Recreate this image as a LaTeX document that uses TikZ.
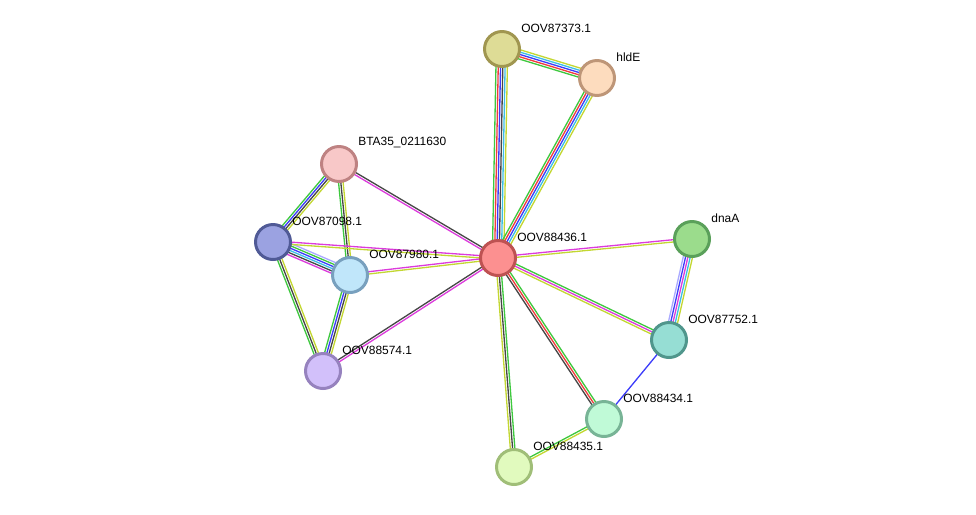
\documentclass[tikz,border=0pt]{standalone}
\usepackage{fontspec}
\setmainfont{Liberation Sans}
\usetikzlibrary{calc,backgrounds}
% evidence channel colours
\definecolor{cneigh}{RGB}{62,200,62}
\definecolor{cfus}{RGB}{240,60,60}
\definecolor{cocc}{RGB}{60,60,250}
\definecolor{ccoex}{RGB}{70,70,70}
\definecolor{cexp}{RGB}{220,60,220}
\definecolor{cdb}{RGB}{60,190,230}
\definecolor{ctext}{RGB}{195,215,50}
\definecolor{chom}{RGB}{170,170,255}
\tikzset{
  prot/.style  = {circle, draw, line width=1.7pt, minimum size=0.7cm, inner sep=0pt},
  lbl/.style   = {font=\fontsize{6.8}{8}\selectfont, inner sep=0pt, anchor=west,
                  xshift=0.38cm, yshift=0.42cm},
  link/.style  = {line width=0.75pt}
}
% bundle of parallel evidence lines: from, to, number, colours
\newcommand{\stredge}[4]{%
  \foreach \col [count=\i] in {#4} {
    \pgfmathsetmacro{\off}{(\i-(#3+1)/2)*1.3}
    \draw[link, \col] ($(#1)!\off pt!90:(#2)$) -- ($(#2)!\off pt!-90:(#1)$);
  }}

\begin{document}
\begin{tikzpicture}[x=0.02cm, y=-0.02cm]
  \useasboundingbox (0,0) rectangle (976,514);

  % proteins
  \node[prot, fill={rgb,255:red,252;green,144;blue,144}, draw={rgb,255:red,190;green,82;blue,82}]
    (p88436) at (498,258) {};
  \node[prot, fill={rgb,255:red,222;green,220;blue,150}, draw={rgb,255:red,160;green,150;blue,80}]
    (p87373) at (502,49) {};
  \node[prot, fill={rgb,255:red,253;green,220;blue,190}, draw={rgb,255:red,190;green,150;blue,120}]
    (hlde) at (597,78) {};
  \node[prot, fill={rgb,255:red,248;green,200;blue,200}, draw={rgb,255:red,190;green,130;blue,130}]
    (bta) at (339,164) {};
  \node[prot, fill={rgb,255:red,155;green,162;blue,225}, draw={rgb,255:red,80;green,90;blue,150}]
    (p87098) at (273,242) {};
  \node[prot, fill={rgb,255:red,192;green,230;blue,250}, draw={rgb,255:red,120;green,160;blue,190}]
    (p87980) at (350,275) {};
  \node[prot, fill={rgb,255:red,210;green,192;blue,250}, draw={rgb,255:red,150;green,130;blue,190}]
    (p88574) at (323,371) {};
  \node[prot, fill={rgb,255:red,155;green,220;blue,140}, draw={rgb,255:red,90;green,160;blue,90}]
    (dnaa) at (692,239) {};
  \node[prot, fill={rgb,255:red,150;green,222;blue,212}, draw={rgb,255:red,80;green,150;blue,140}]
    (p87752) at (669,340) {};
  \node[prot, fill={rgb,255:red,192;green,250;blue,215}, draw={rgb,255:red,120;green,180;blue,150}]
    (p88434) at (604,419) {};
  \node[prot, fill={rgb,255:red,225;green,250;blue,190}, draw={rgb,255:red,160;green,190;blue,120}]
    (p88435) at (514,467) {};

  % names
  \node[lbl] at (p88436) {OOV88436.1};
  \node[lbl] at (p87373) {OOV87373.1};
  \node[lbl] at (hlde) {hldE};
  \node[lbl] at (bta) {BTA35\_0211630};
  \node[lbl] at (p87098) {OOV87098.1};
  \node[lbl] at (p87980) {OOV87980.1};
  \node[lbl] at (p88574) {OOV88574.1};
  \node[lbl] at (dnaa) {dnaA};
  \node[lbl] at (p87752) {OOV87752.1};
  \node[lbl] at (p88434) {OOV88434.1};
  \node[lbl] at (p88435) {OOV88435.1};

  % interactions, behind the proteins
  \begin{scope}[on background layer]
    \stredge{p87373}{p88436}{6}{cneigh,cfus,cocc,ccoex,cdb,ctext}
    \stredge{p87373}{hlde}{5}{cneigh,cfus,cocc,cdb,ctext}
    \stredge{hlde}{p88436}{5}{cneigh,cfus,cocc,cdb,ctext}
    \stredge{bta}{p88436}{2}{cexp,ccoex}
    \stredge{bta}{p87098}{4}{cneigh,cocc,ccoex,ctext}
    \stredge{bta}{p87980}{3}{cneigh,ccoex,ctext}
    \stredge{p87098}{p87980}{6}{cexp,ccoex,cdb,cocc,cneigh,chom}
    \stredge{p87098}{p88436}{2}{ctext,cexp}
    \stredge{p87980}{p88436}{2}{ctext,cexp}
    \stredge{p87098}{p88574}{3}{cneigh,ccoex,ctext}
    \stredge{p87980}{p88574}{4}{cneigh,cocc,ccoex,ctext}
    \stredge{p88574}{p88436}{2}{cexp,ccoex}
    \stredge{dnaa}{p88436}{2}{cexp,ctext}
    \stredge{dnaa}{p87752}{5}{chom,cocc,cexp,cdb,ctext}
    \stredge{p87752}{p88436}{3}{cneigh,cexp,ctext}
    \stredge{p87752}{p88434}{1}{cocc}
    \stredge{p88434}{p88436}{3}{cneigh,cfus,ccoex}
    \stredge{p88435}{p88436}{3}{cneigh,ccoex,ctext}
    \stredge{p88435}{p88434}{2}{ctext,cneigh}
  \end{scope}
\end{tikzpicture}
\end{document}
